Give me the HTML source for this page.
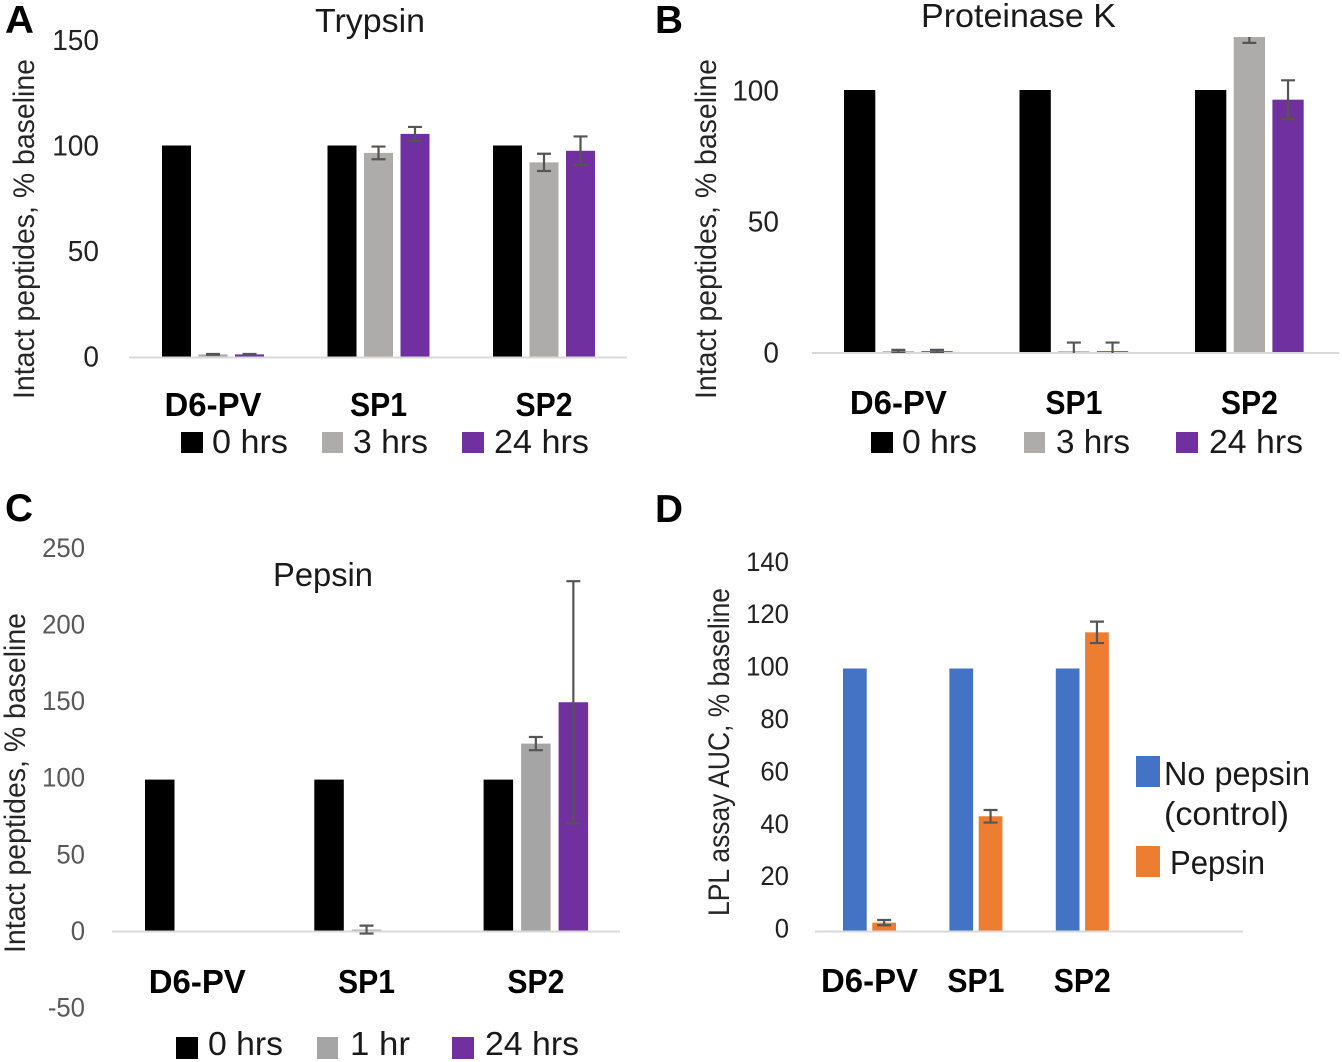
<!DOCTYPE html>
<html lang="en">
<head>
<meta charset="utf-8">
<title>Intact peptides after protease digestion</title>
<style>
  html, body { margin: 0; padding: 0; background: #fff; }
  svg { display: block; font-family: "Liberation Sans", Arial, sans-serif; }
  .panel-letter { font-size: 39px; font-weight: bold; fill: #000; }
  .title { font-size: 33px; fill: #1a1a1a; }
  .axis-title { font-size: 29.5px; fill: #262626; }
  .legend-text { font-size: 33px; fill: #1a1a1a; }
  .cat { font-size: 33px; font-weight: bold; fill: #000; }
</style>
</head>
<body>
<svg id="figure" xmlns="http://www.w3.org/2000/svg" width="1342" height="1062" viewBox="0 0 1342 1062">
  <defs>
    <clipPath id="clip-bars-b"><rect x="800" y="37" width="542" height="316"></rect></clipPath>
    <clipPath id="clip-err-b"><rect x="800" y="37" width="542" height="316"></rect></clipPath>
  </defs>

  <!-- Panel A -->
  <g id="panel-a">
    <text class="panel-letter" x="5" y="33" textLength="29" lengthAdjust="spacingAndGlyphs">A</text>
    <text class="title" x="315" y="32" textLength="110" lengthAdjust="spacingAndGlyphs">Trypsin</text>
    <text class="axis-title" transform="translate(34 399) rotate(-90)" textLength="340" lengthAdjust="spacingAndGlyphs">Intact peptides, % baseline</text>
    <g>
      <rect x="181" y="432" width="22" height="21" fill="#000"></rect>
      <text class="legend-text" x="212" y="453" textLength="76" lengthAdjust="spacingAndGlyphs">0 hrs</text>
      <rect x="322" y="432" width="21" height="21" fill="#AEABAB"></rect>
      <text class="legend-text" x="353" y="453" textLength="75" lengthAdjust="spacingAndGlyphs">3 hrs</text>
      <rect x="462" y="432" width="22" height="21" fill="#7030A0"></rect>
      <text class="legend-text" x="494" y="453" textLength="95" lengthAdjust="spacingAndGlyphs">24 hrs</text>
    </g>
  </g>

  <!-- Panel B -->
  <g id="panel-b">
    <text class="panel-letter" x="655" y="33" textLength="28" lengthAdjust="spacingAndGlyphs">B</text>
    <text class="title" x="921" y="27" textLength="195" lengthAdjust="spacingAndGlyphs">Proteinase K</text>
    <text class="axis-title" transform="translate(716 399) rotate(-90)" textLength="340" lengthAdjust="spacingAndGlyphs">Intact peptides, % baseline</text>
    <g>
      <rect x="871" y="432" width="22" height="21" fill="#000"></rect>
      <text class="legend-text" x="902" y="453" textLength="75" lengthAdjust="spacingAndGlyphs">0 hrs</text>
      <rect x="1024" y="432" width="21" height="21" fill="#AEABAB"></rect>
      <text class="legend-text" x="1056" y="453" textLength="74" lengthAdjust="spacingAndGlyphs">3 hrs</text>
      <rect x="1176" y="432" width="22" height="21" fill="#7030A0"></rect>
      <text class="legend-text" x="1209" y="453" textLength="94" lengthAdjust="spacingAndGlyphs">24 hrs</text>
    </g>
  </g>

  <!-- Panel C -->
  <g id="panel-c">
    <text class="panel-letter" x="5" y="521" textLength="28" lengthAdjust="spacingAndGlyphs">C</text>
    <text class="title" x="273" y="586" textLength="100" lengthAdjust="spacingAndGlyphs">Pepsin</text>
    <text class="axis-title" transform="translate(25 953) rotate(-90)" textLength="340" lengthAdjust="spacingAndGlyphs">Intact peptides, % baseline</text>
    <g>
      <rect x="176" y="1037" width="22" height="22" fill="#000"></rect>
      <text class="legend-text" x="208" y="1055" textLength="75" lengthAdjust="spacingAndGlyphs">0 hrs</text>
      <rect x="317" y="1037" width="21" height="22" fill="#A5A5A5"></rect>
      <text class="legend-text" x="350" y="1055" textLength="60" lengthAdjust="spacingAndGlyphs">1 hr</text>
      <rect x="452" y="1037" width="22" height="22" fill="#7030A0"></rect>
      <text class="legend-text" x="485" y="1055" textLength="94" lengthAdjust="spacingAndGlyphs">24 hrs</text>
    </g>
  </g>

  <!-- Panel D -->
  <g id="panel-d">
    <text class="panel-letter" x="655" y="522" textLength="28" lengthAdjust="spacingAndGlyphs">D</text>
    <text class="axis-title" transform="translate(729 916) rotate(-90)" textLength="328" lengthAdjust="spacingAndGlyphs">LPL assay AUC, % baseline</text>
    <g>
      <rect x="1136" y="756" width="24" height="31" fill="#4472C4"></rect>
      <text class="legend-text" x="1164" y="785" textLength="146" lengthAdjust="spacingAndGlyphs">No pepsin</text>
      <text class="legend-text" x="1164" y="825" textLength="125" lengthAdjust="spacingAndGlyphs">(control)</text>
      <rect x="1136" y="846" width="24" height="31" fill="#ED7D31"></rect>
      <text class="legend-text" x="1170" y="874" textLength="95" lengthAdjust="spacingAndGlyphs">Pepsin</text>
    </g>
  </g>
</svg>

<script>
// ---- Data ----
const categories = ['D6-PV', 'SP1', 'SP2'];

const trypsinTicks = [0, 50, 100, 150];
const trypsin0h = [100, 100, 100];
const trypsin3h = [1, 96.5, 92];
const trypsin24h = [1, 105.5, 97.5];
const trypsin3hErr = [0.2, 3, 4.1];
const trypsin24hErr = [0.2, 3.3, 6.8];

const proteinaseTicks = [0, 50, 100];
const proteinase0h = [100, 100, 100];
const proteinase3h = [0.3, 0.3, 122];
const proteinase24h = [0.3, 0.3, 96.3];
const proteinase3hErr = [0.5, 3.3, 4];
const proteinase24hErr = [0.5, 3.3, 7.4];

const pepsinTicks = [-50, 0, 50, 100, 150, 200, 250];
const pepsin0h = [98.5, 98.5, 98.5];
const pepsin1h = [0, 0.6, 122];
const pepsin24h = [0, 0, 149];
const pepsin1hErr = [null, 2.6, 4.3];
const pepsin24hErr = [null, null, 79];

const lplTicks = [0, 20, 40, 60, 80, 100, 120, 140];
const lplControl = [100, 100, 100];
const lplPepsin = [3, 43.6, 113.8];
const lplPepsinErr = [1, 2.4, 4.1];

// ---- Rendering ----
const NS = 'http://www.w3.org/2000/svg';
const ERR_COLOR = '#555555';

function drawChart(cfg) {
  const root = document.getElementById(cfg.panel);
  const y = function (v) { return cfg.y0 - v * cfg.pxPerUnit; };
  const n = cfg.series.length;
  const groupLeft = function (i) { return cfg.start + i * cfg.groupStep; };
  const barLeft = function (i, s) { return groupLeft(i) + s * cfg.barStep; };
  const groupCenter = function (i) { return groupLeft(i) + ((n - 1) * cfg.barStep + cfg.barWidth) / 2; };

  const baseline = document.createElementNS(NS, 'rect');
  
  
  baseline.setAttribute('x', cfg.axisX1);
  baseline.setAttribute('y', cfg.y0);
  baseline.setAttribute('width', cfg.axisX2 - cfg.axisX1);
  baseline.setAttribute('height', 2);
  baseline.setAttribute('fill', '#D9D9D9');
  root.appendChild(baseline);

  cfg.ticks.forEach(function (t) {
    const label = String(t);
    const el = document.createElementNS(NS, 'text');
    
    
    el.setAttribute('x', cfg.tickX);
    el.setAttribute('y', y(t) + cfg.tickShift + cfg.tickFont * 0.355);
    el.setAttribute('text-anchor', 'end');
    el.setAttribute('font-size', cfg.tickFont);
    el.setAttribute('fill', cfg.tickColor);
    el.setAttribute('textLength', cfg.tickDigitW * (t < 0 ? label.length - 0.4 : label.length));
    el.setAttribute('lengthAdjust', 'spacingAndGlyphs');
    el.textContent = label;
    root.appendChild(el);
  });

  categories.forEach(function (c, i) {
    const el = document.createElementNS(NS, 'text');
    
    
    el.setAttribute('class', 'cat');
    el.setAttribute('x', groupCenter(i));
    el.setAttribute('y', cfg.catY);
    el.setAttribute('text-anchor', 'middle');
    el.setAttribute('textLength', 20 * c.length - 3);
    el.setAttribute('lengthAdjust', 'spacingAndGlyphs');
    el.textContent = c;
    root.appendChild(el);
  });

  cfg.series.forEach(function (s, si) {
    s.values.forEach(function (v, i) {
      const bar = document.createElementNS(NS, 'rect');
      
      
      bar.setAttribute('x', barLeft(i, si));
      bar.setAttribute('y', Math.min(y(v), cfg.y0));
      bar.setAttribute('width', cfg.barWidth);
      bar.setAttribute('height', Math.abs(cfg.y0 - y(v)));
      bar.setAttribute('fill', s.color);
      if (cfg.clipBars) bar.setAttribute('clip-path', 'url(#' + cfg.clipBars + ')');
      root.appendChild(bar);
    });
  });

  cfg.series.forEach(function (s, si) {
    if (!s.errors) return;
    s.values.forEach(function (v, i) {
      const e = s.errors[i];
      if (e === null) return;
      const cx = barLeft(i, si) + cfg.barWidth / 2;
      const top = y(v + e);
      const bot = y(v - e);
      const capW = cfg.capHalf;
      const err = document.createElementNS(NS, 'path');
      
      
      err.setAttribute('d', 'M' + (cx - capW) + ' ' + top + 'H' + (cx + capW) +
        'M' + cx + ' ' + top + 'V' + bot +
        'M' + (cx - capW) + ' ' + bot + 'H' + (cx + capW));
      err.setAttribute('fill', 'none');
      err.setAttribute('stroke', ERR_COLOR);
      err.setAttribute('stroke-width', 2.2);
      if (cfg.clipErr) err.setAttribute('clip-path', 'url(#' + cfg.clipErr + ')');
      root.appendChild(err);
    });
  });
}

drawChart({
  panel: 'panel-a', y0: 356.5, pxPerUnit: 2.11, start: 162, groupStep: 165.5, barStep: 36.5, barWidth: 29,
  axisX1: 129, axisX2: 627, tickX: 99, tickFont: 29, tickDigitW: 15.6, tickColor: '#222', tickShift: -0.5, catY: 416, capHalf: 7,
  ticks: trypsinTicks,
  series: [
    { values: trypsin0h, color: '#000000' },
    { values: trypsin3h, color: '#AEABAB', errors: trypsin3hErr },
    { values: trypsin24h, color: '#7030A0', errors: trypsin24hErr }
  ]
});

drawChart({
  panel: 'panel-b', y0: 352, pxPerUnit: 2.62, start: 844, groupStep: 175.5, barStep: 38.7, barWidth: 31.3,
  axisX1: 812, axisX2: 1339, tickX: 779, tickFont: 29, tickDigitW: 15.6, tickColor: '#222', tickShift: 0, catY: 414, capHalf: 7,
  clipBars: 'clip-bars-b', clipErr: 'clip-err-b',
  ticks: proteinaseTicks,
  series: [
    { values: proteinase0h, color: '#000000' },
    { values: proteinase3h, color: '#AEABAB', errors: proteinase3hErr },
    { values: proteinase24h, color: '#7030A0', errors: proteinase24hErr }
  ]
});

drawChart({
  panel: 'panel-c', y0: 930.5, pxPerUnit: 1.532, start: 145, groupStep: 169.3, barStep: 37.5, barWidth: 29.5,
  axisX1: 112, axisX2: 620, tickX: 85, tickFont: 26.5, tickDigitW: 14.3, tickColor: '#595959', tickShift: 0, catY: 993, capHalf: 7,
  ticks: pepsinTicks,
  series: [
    { values: pepsin0h, color: '#000000' },
    { values: pepsin1h, color: '#A5A5A5', errors: pepsin1hErr },
    { values: pepsin24h, color: '#7030A0', errors: pepsin24hErr }
  ]
});

drawChart({
  panel: 'panel-d', y0: 930.5, pxPerUnit: 2.62, start: 843, groupStep: 106.4, barStep: 29.3, barWidth: 23.7,
  axisX1: 815, axisX2: 1243, tickX: 789, tickFont: 27, tickDigitW: 14.3, tickColor: '#222', tickShift: -2.5, catY: 992, capHalf: 7,
  ticks: lplTicks,
  series: [
    { values: lplControl, color: '#4472C4' },
    { values: lplPepsin, color: '#ED7D31', errors: lplPepsinErr }
  ]
});
</script>
</body>
</html>
